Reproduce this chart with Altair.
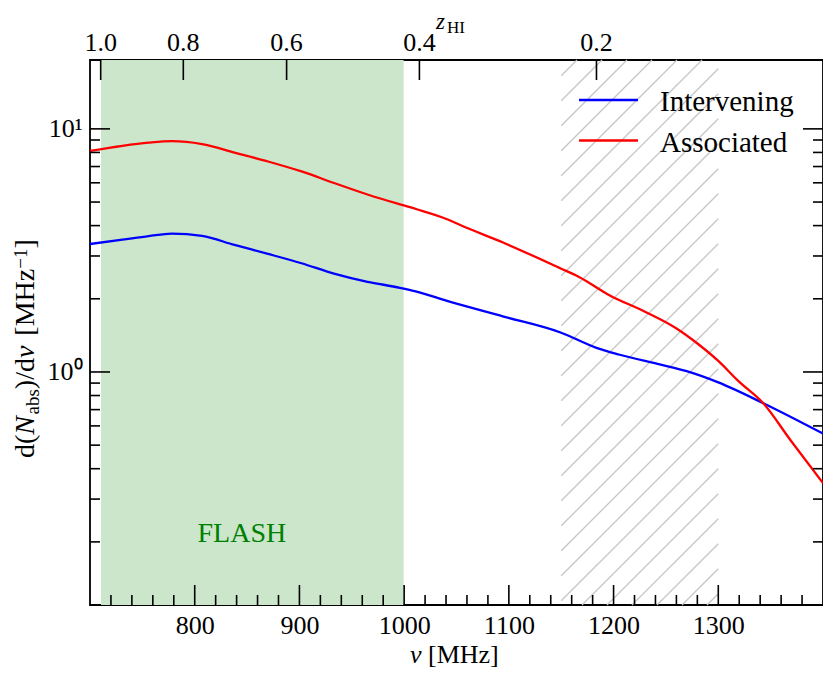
import math
import altair as alt
import pandas as pd

# ---------------- data ----------------
nu_int = [700, 731, 756, 778, 807, 838, 870, 902, 933, 965, 996, 1012, 1041, 1095,
          1150, 1183, 1205, 1246, 1269, 1300, 1343, 1400]
val_int = [3.36, 3.50, 3.62, 3.71, 3.63, 3.33, 3.06, 2.80, 2.54, 2.35, 2.22, 2.14, 1.96, 1.69,
           1.45, 1.26, 1.18, 1.07, 1.01, 0.906, 0.744, 0.558]

nu_asc = [700, 731, 756, 778, 807, 838, 870, 902, 933, 965, 996, 1012, 1041, 1053, 1095,
          1150, 1167, 1196, 1230, 1259, 1281, 1300, 1319, 1343, 1369, 1400]
val_asc = [8.11, 8.51, 8.77, 8.90, 8.66, 7.99, 7.34, 6.68, 5.99, 5.37, 4.89, 4.67, 4.25, 4.03, 3.40,
           2.66, 2.46, 2.07, 1.77, 1.52, 1.30, 1.11, 0.919, 0.743, 0.524, 0.349]

series_names = ["Intervening", "Associated"]
series_colors = ["#0000ff", "#ff0000"]

flash_band = [710.5, 999.5]
hatch_band = [1150, 1300]
flash_label = ["FLASH"]
flash_pos = [845, 0.2]

x_domain = [700, 1400]
y_domain = [0.11, 19.2]
x_major = [800, 900, 1000, 1100, 1200, 1300]
x_minor = [v for v in range(720, 1400, 20) if v % 100 != 0]
y_major = [1, 10]
y_minor = [0.2, 0.3, 0.4, 0.5, 0.6, 0.7, 0.8, 0.9, 2, 3, 4, 5, 6, 7, 8, 9]
z_ticks = [1.0, 0.8, 0.6, 0.4, 0.2]
NU_HI = 1420.405751

# ---------------- layout ----------------
W, H = 733, 545
PAD = {"left": 82, "top": 52, "right": 0, "bottom": 65}
FONT = "Liberation Serif"
FS = 26
BLACK = "#000000"

xs = alt.Scale(domain=x_domain, nice=False, zero=False)
ys = alt.Scale(type="log", domain=y_domain, nice=False)

AX = alt.Axis(values=x_major, format="d", labelFont=FONT, labelFontSize=FS, labelColor=BLACK,
              ticks=False, domain=False, grid=False, labelPadding=28,
              labelBaseline="alphabetic", title=None, labelFlush=False, labelOverlap=False)
AY = alt.Axis(values=y_major, labelExpr="datum.value == 1 ? '10⁰' : '10¹'", labelFont=FONT,
              labelFontSize=FS, labelColor=BLACK, ticks=False, domain=False, grid=False,
              labelPadding=8, labelBaseline="middle", title=None, labelFlush=False,
              labelOverlap=False)


def X(f):
    return alt.X(f, scale=xs, axis=AX)


def Y(f):
    return alt.Y(f, scale=ys, axis=AY)


layers = []

# FLASH band
flash_df = pd.DataFrame({"x0": [flash_band[0]], "x1": [flash_band[1]]})
layers.append(alt.Chart(flash_df).mark_rect(color="#cce6cc").encode(
    x=X("x0:Q"), x2="x1:Q", y=alt.value(0), y2=alt.value(H)))

# hatching of the 1150-1300 MHz band (45 degree lines, clipped to the band)
kx = W / (x_domain[1] - x_domain[0])
ky = H / (math.log10(y_domain[1]) - math.log10(y_domain[0]))
px0 = (hatch_band[0] - x_domain[0]) * kx
px1 = (hatch_band[1] - x_domain[0]) * kx
hx, hy, hx2, hy2 = [], [], [], []
for k in range(-40, 80):
    c = 612 + 25 * k
    lo = max(px0, c - H)
    hi = min(px1, c)
    if lo >= hi:
        continue
    for (p, q, lx, ly) in [(lo, c - lo, hx, hy), (hi, c - hi, hx2, hy2)]:
        lx.append(x_domain[0] + p / kx)
        ly.append(10 ** (math.log10(y_domain[1]) - q / ky))
hatch_df = pd.DataFrame({"hx": hx, "hy": hy, "hx2": hx2, "hy2": hy2})
layers.append(alt.Chart(hatch_df).mark_rule(color="#c6c6c6", strokeWidth=1.3).encode(
    x=X("hx:Q"), y=Y("hy:Q"), x2="hx2:Q", y2="hy2:Q"))

# curves (Intervening first, Associated on top)
for name, col, nus, vals in [(series_names[0], series_colors[0], nu_int, val_int),
                             (series_names[1], series_colors[1], nu_asc, val_asc)]:
    df = pd.DataFrame({"nu": nus, "val": vals, "name": name})
    layers.append(alt.Chart(df).mark_line(color=col, strokeWidth=2.3, interpolate="monotone",
                                          clip=True).encode(x=X("nu:Q"), y=Y("val:Q")))

# FLASH label
fl_df = pd.DataFrame({"t": flash_label, "nu": [flash_pos[0]], "v": [flash_pos[1]]})
layers.append(alt.Chart(fl_df).mark_text(font=FONT, fontSize=28, color="green", align="center",
                                         baseline="alphabetic").encode(
    x=X("nu:Q"), y=Y("v:Q"), text="t:N"))

# inward ticks
tick_style = dict(color=BLACK, strokeWidth=1.6)
xmaj_df = pd.DataFrame({"nu": x_major})
xmin_df = pd.DataFrame({"nu": x_minor})
layers.append(alt.Chart(xmaj_df).mark_rule(**tick_style).encode(
    x=X("nu:Q"), y=alt.value(H), y2=alt.value(H - 20)))
layers.append(alt.Chart(xmin_df).mark_rule(**tick_style).encode(
    x=X("nu:Q"), y=alt.value(H), y2=alt.value(H - 10)))

top_df = pd.DataFrame({"z": z_ticks, "nu": [NU_HI / (1 + z) for z in z_ticks],
                       "lab": [f"{z:.1f}" for z in z_ticks]})
layers.append(alt.Chart(top_df).mark_rule(**tick_style).encode(
    x=X("nu:Q"), y=alt.value(0), y2=alt.value(20)))
layers.append(alt.Chart(top_df).mark_text(font=FONT, fontSize=FS, color=BLACK, align="center",
                                          baseline="alphabetic").encode(
    x=X("nu:Q"), y=alt.value(-9), text="lab:N"))

ymaj_df = pd.DataFrame({"v": y_major})
ymin_df = pd.DataFrame({"v": y_minor})
for x0, x1, x0m, x1m in [(0, 20, 0, 10), (W - 20, W, W - 10, W)]:
    layers.append(alt.Chart(ymaj_df).mark_rule(**tick_style).encode(
        y=Y("v:Q"), x=alt.value(x0), x2=alt.value(x1)))
    layers.append(alt.Chart(ymin_df).mark_rule(**tick_style).encode(
        y=Y("v:Q"), x=alt.value(x0m), x2=alt.value(x1m)))


def text_piece(t, x, y, size, italic=False, angle=0, align="left"):
    kw = dict(font=FONT, fontSize=size, color=BLACK, align=align, baseline="alphabetic",
              text=t)
    if italic:
        kw["fontStyle"] = "italic"
    if angle:
        kw["angle"] = angle
    return alt.Chart(pd.DataFrame({"t": [t]})).mark_text(**kw).encode(
        x=alt.value(x), y=alt.value(y))


# x title: nu [MHz]
layers.append(text_piece("ν", 320, 603, 26, italic=True))
layers.append(text_piece("[MHz]", 338, 603, 26))

# top title: z_HI
layers.append(text_piece("z", 346, -31, 23, italic=True))
layers.append(text_piece("HI", 357, -27, 17))

# y title: d(N_abs)/dnu [MHz^-1], rotated
MAIN, SUB = 28, 19
pieces = [("d(", MAIN, False, 0, 0.833), ("N", MAIN, True, 0, 0.72), ("abs", SUB, False, 5, 1.333),
          (")/d", MAIN, False, 0, 1.111), ("ν", MAIN, True, 0, 0.55),
          ("[MHz", MAIN, False, 0, 2.388), ("−1", SUB, False, -7, 1.064),
          ("]", MAIN, False, 0, 0.333)]
cur = 398
for t, size, it, shift, em in pieces:
    if t.startswith("["):
        cur -= 0.25 * size  # thin gap before the unit bracket
    layers.append(text_piece(t, -56 + shift, cur, size, italic=it, angle=270))
    cur -= em * size

# legend (manual, inside upper right)
for i, (name, col) in enumerate(zip(series_names, series_colors)):
    ly = 40 + 40.5 * i
    layers.append(alt.Chart(pd.DataFrame({"n": [name]})).mark_rule(color=col, strokeWidth=2.3).encode(
        x=alt.value(489), x2=alt.value(548), y=alt.value(ly)))
    layers.append(text_piece(name, 570, ly + 11, 29))

chart = alt.layer(*layers).properties(
    width=W, height=H,
    padding=PAD,
    autosize=alt.AutoSizeParams(type="none"),
).configure_view(stroke=BLACK, strokeWidth=1.8).configure_axis(grid=False)

chart.save("out.html", embed_options={"renderer": "svg", "actions": False})
